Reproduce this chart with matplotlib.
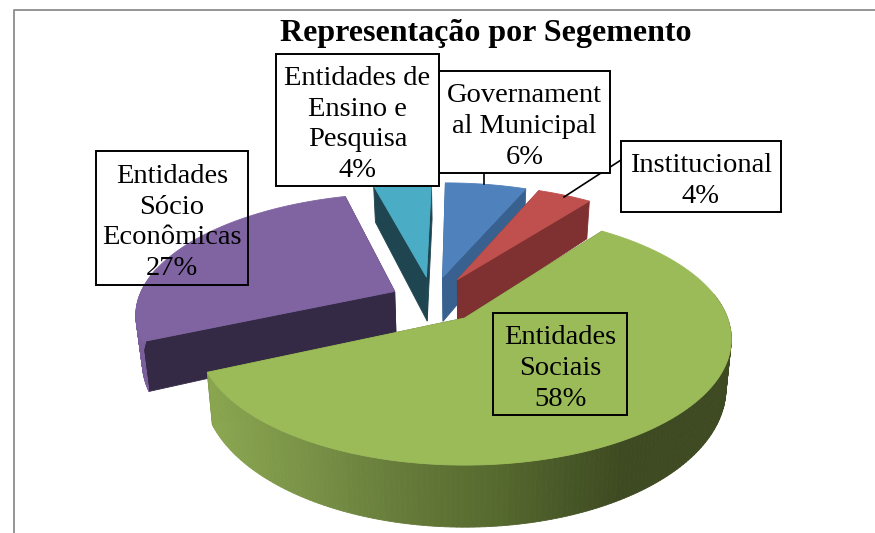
#!/usr/bin/env python
import numpy as np
import matplotlib
matplotlib.use('Agg')
import matplotlib.pyplot as plt
from matplotlib.patches import Polygon, Rectangle
from matplotlib.colors import to_rgb

title = 'Representação por Segemento'
labels = ['Governament\nal Municipal', 'Institucional', 'Entidades\nSociais',
          'Entidades\nSócio\nEconômicas', 'Entidades de\nEnsino e\nPesquisa']
# shown rounded on the labels, read a bit finer from the slice angles
values = [6.05, 4.05, 58.0, 27.4, 4.3]

top_colors = ['#4F81BD', '#C0504D', '#9BBB59', '#8064A2', '#4BACC6']
side_colors = ['#38618F', '#7F3030', '#55682E', '#352A45', '#1F4650']
rim_colors = ['#38618F', '#7F3030', None, '#7A5F9B', '#1F4650']
explode = [0.2, 0.2, 0.2, 0.165, 0.2]

# label boxes in pixels: left, top, right, bottom
boxes = [(439, 71, 610, 173), (621, 141, 781, 212), (493, 313, 627, 415),
         (96, 151, 248, 285), (276, 54, 439, 186)]
box_fill = ['white', 'white', 'none', 'none', 'white']

# perspective of the pie plane, origin is the apex of the green slice
X0, Y0 = 463.0, 318.0
A, B, K = 263.0, 122.5, 0.1667
D, KD = 47.6, 0.233
CU, CV = -0.12, 0.155


def project(u, v, down=False):
    w = 1 + K*v
    x = A*u/w
    y = -B*v/w
    if down:
        x = x*0.98
        y = y + D/(1 + KD*v)
    return X0 + x, Y0 + y


def quad(ax, xs, ys, color, z):
    ax.add_patch(Polygon(np.column_stack([xs, ys]), closed=True, facecolor=color,
                         edgecolor=color, linewidth=0.6, zorder=z))


def green_rim(x):
    stops = [213, 300, 400, 500, 620]
    cols = [to_rgb(c) for c in ['#8AA650', '#7A9347', '#667B3A', '#55682E', '#3E4A21']]
    return tuple(np.interp(x, stops, [c[i] for c in cols]) for i in range(3))


fig = plt.figure(figsize=(8.75, 5.33), dpi=100)
ax = fig.add_axes([0, 0, 1, 1])
ax.set_xlim(0, 875)
ax.set_ylim(533, 0)
ax.axis('off')

# chart frame, only left and top show
ax.plot([14, 14, 875], [533, 9.5, 9.5], color='#8C8C8C', lw=1.3, zorder=0)

fractions = np.array(values)/np.sum(values)
edges = np.concatenate([[0], np.cumsum(fractions)])*2*np.pi

# far slices first, green sits in front of everything
for order, i in enumerate([3, 4, 0, 1, 2]):
    a0, a1 = edges[i], edges[i+1]
    mid = (a0 + a1)/2
    cu = CU + explode[i]*np.sin(mid)
    cv = CV + explode[i]*np.cos(mid)
    t = np.linspace(a0, a1, 200)
    u = cu + np.sin(t)
    v = cv + np.cos(t)
    z = 1 + order
    for a in [a0, a1]:
        ru, rv = cu + np.sin(a), cv + np.cos(a)
        x1, y1 = project(np.array([cu, ru]), np.array([cv, rv]))
        x2, y2 = project(np.array([ru, cu]), np.array([rv, cv]), down=True)
        quad(ax, np.r_[x1, x2], np.r_[y1, y2], side_colors[i], z)
    for j in range(len(t)-1):
        if np.cos(t[j]) > 0.2:
            continue
        x1, y1 = project(u[j:j+2], v[j:j+2])
        x2, y2 = project(u[j:j+2][::-1], v[j:j+2][::-1], down=True)
        c = rim_colors[i] if rim_colors[i] else green_rim(x1.mean())
        quad(ax, np.r_[x1, x2], np.r_[y1, y2], c, z)
    x, y = project(np.r_[cu, u], np.r_[cv, v])
    quad(ax, x, y, top_colors[i], z)

# leader lines
ax.plot([484, 484], [173, 184], color='black', lw=1.2, zorder=8)
ax.plot([621, 564], [160, 197], color='black', lw=1.2, zorder=8)

pct = ['%.0f%%' % p for p in values]
for i in range(len(labels)):
    l, t, r, b = boxes[i]
    ax.add_patch(Rectangle((l, t), r-l, b-t, facecolor=box_fill[i], edgecolor='black',
                           lw=1.4, zorder=9))
    ax.text((l+r)/2, (t+b)/2 + 4.5, labels[i] + '\n' + pct[i], ha='center', va='center',
            family='Liberation Serif', fontsize=20.5, linespacing=1.31, zorder=10)

ax.text(486, 34, title, ha='center', va='center', family='Liberation Serif',
        fontweight='bold', fontsize=23, zorder=10)

fig.savefig('out.png', dpi=100)
